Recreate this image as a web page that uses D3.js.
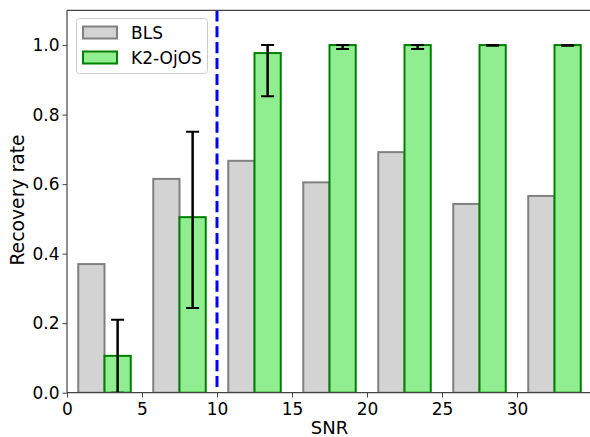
<!DOCTYPE html>
<html><head><meta charset="utf-8">
<script src="https://cdn.jsdelivr.net/npm/d3@7"></script>
<style>body{margin:0;background:#fff}svg{display:block}text{font-family:"DejaVu Sans",sans-serif}</style>
</head><body><svg id="c" width="590" height="437"></svg>
<script>
const binCenters = [2.5, 7.5, 12.5, 17.5, 22.5, 27.5, 32.5];
const blsValues = [0.370, 0.615, 0.667, 0.605, 0.692, 0.543, 0.566];
const k2Values = [0.106, 0.505, 0.977, 1.0, 1.0, 1.0, 1.0];
const k2ErrLow = [0.0, 0.244, 0.853, 0.989, 0.989, 0.998, 0.998];
const k2ErrHigh = [0.21, 0.751, 1.0, 1.0, 1.0, 1.0, 1.0];
const xTicks = [0, 5, 10, 15, 20, 25, 30];
const yTicks = [0.0, 0.2, 0.4, 0.6, 0.8, 1.0];
const thresholdSNR = 10;
const barWidth = 1.75;
const seriesNames = ["BLS", "K2-OjOS"];

const svg = d3.select("#c");
const L = 67, R = 592, T = 10.3, B = 392.7;
const x = d3.scaleLinear().domain([0, 35]).range([L, R]);
const y = d3.scaleLinear().domain([0, 1.1]).range([B, T]);

svg.append("defs").append("clipPath").attr("id","clip")
  .append("rect").attr("x",L).attr("y",T).attr("width",R-L).attr("height",B-T);
const g = svg.append("g").attr("clip-path","url(#clip)");

// BLS bars
g.selectAll(".bls").data(binCenters).enter().append("rect")
  .attr("x", (c)=>x(c-barWidth))
  .attr("width", (c)=>x(c)-x(c-barWidth))
  .attr("y", (c,i)=>y(blsValues[i]))
  .attr("height", (c,i)=>y(0)-y(blsValues[i]))
  .attr("fill","#d3d3d3").attr("stroke","#808080").attr("stroke-width",2);
// K2 bars
g.selectAll(".k2").data(binCenters).enter().append("rect")
  .attr("x", (c)=>x(c))
  .attr("width", (c)=>x(c+barWidth)-x(c))
  .attr("y", (c,i)=>y(k2Values[i]))
  .attr("height", (c,i)=>y(0)-y(k2Values[i]))
  .attr("fill","#90ee90").attr("stroke","#008000").attr("stroke-width",2);
// error bars
const eg = g.selectAll(".err").data(binCenters).enter().append("g");
const ex = (c)=>x(c+barWidth/2);
eg.append("line").attr("x1",ex).attr("x2",ex)
  .attr("y1",(c,i)=>y(k2ErrLow[i])).attr("y2",(c,i)=>y(k2ErrHigh[i]))
  .attr("stroke","#000").attr("stroke-width",2.5);
eg.append("line").attr("x1",c=>ex(c)-6.5).attr("x2",c=>ex(c)+6.5)
  .attr("y1",(c,i)=>y(k2ErrLow[i])).attr("y2",(c,i)=>y(k2ErrLow[i]))
  .attr("stroke","#000").attr("stroke-width",2);
eg.append("line").attr("x1",c=>ex(c)-6.5).attr("x2",c=>ex(c)+6.5)
  .attr("y1",(c,i)=>y(k2ErrHigh[i])).attr("y2",(c,i)=>y(k2ErrHigh[i]))
  .attr("stroke","#000").attr("stroke-width",2);

// threshold line
svg.append("line").attr("x1",x(thresholdSNR)).attr("x2",x(thresholdSNR))
  .attr("y1",T).attr("y2",B)
  .attr("stroke","#0000ff").attr("stroke-width",3).attr("stroke-dasharray","11.1,4.8");

// axes
const spine = "#444444";
const xAxis = svg.append("g").attr("transform",`translate(0,${B})`)
  .call(d3.axisBottom(x).tickValues(xTicks).tickFormat(d3.format("d")).tickSize(4.8).tickPadding(5));
const yAxis = svg.append("g").attr("transform",`translate(${L},0)`)
  .call(d3.axisLeft(y).tickValues(yTicks).tickFormat(d3.format(".1f")).tickSize(4.5).tickPadding(3));
[xAxis,yAxis].forEach(a=>{
  a.select(".domain").remove();
  a.selectAll(".tick line").attr("stroke",spine).attr("stroke-width",1);
  a.selectAll("text").attr("font-size",17).attr("fill","#000").attr("font-family","DejaVu Sans");
});
// spines
svg.append("line").attr("x1",L).attr("x2",L).attr("y1",T).attr("y2",B).attr("stroke",spine).attr("stroke-width",1.2);
svg.append("line").attr("x1",L).attr("x2",R).attr("y1",B).attr("y2",B).attr("stroke",spine).attr("stroke-width",1.2);
svg.append("line").attr("x1",L).attr("x2",R).attr("y1",T).attr("y2",T).attr("stroke",spine).attr("stroke-width",1.2);
svg.append("line").attr("x1",R).attr("x2",R).attr("y1",T).attr("y2",B).attr("stroke",spine).attr("stroke-width",1.2);

// labels
svg.append("text").attr("x",(L+R)/2).attr("y",434.3).attr("text-anchor","middle")
  .attr("font-size",18).text("SNR");
svg.append("text").attr("transform",`translate(24,200) rotate(-90)`).attr("text-anchor","middle")
  .attr("font-size",18.8).text("Recovery rate");

// legend
const lg = svg.append("g");
lg.append("rect").attr("x",76.5).attr("y",18.5).attr("width",131).attr("height",55).attr("rx",3)
  .attr("fill","#fff").attr("fill-opacity",0.8).attr("stroke","#cccccc").attr("stroke-width",1);
const legendStyles = [{fill:"#d3d3d3",stroke:"#808080"},{fill:"#90ee90",stroke:"#008000"}];
seriesNames.forEach((name,i)=>{
  const yy = 26.5 + i*25;
  lg.append("rect").attr("x",83).attr("y",yy).attr("width",34).attr("height",12)
    .attr("fill",legendStyles[i].fill).attr("stroke",legendStyles[i].stroke).attr("stroke-width",2);
  lg.append("text").attr("x",131).attr("y",yy+12).attr("font-size",17).text(name);
});
</script></body></html>
